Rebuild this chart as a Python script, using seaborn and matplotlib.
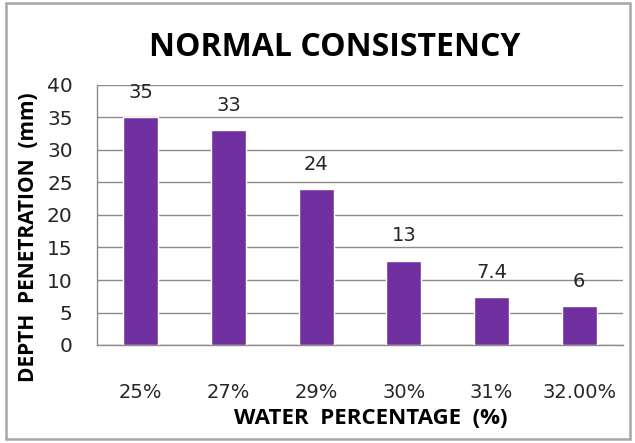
import matplotlib
matplotlib.use("Agg")
import matplotlib.pyplot as plt
import seaborn as sns
import pandas as pd
from matplotlib.patches import Rectangle

water = ["25%", "27%", "29%", "30%", "31%", "32.00%"]
depth = [35, 33, 24, 13, 7.4, 6]
value_labels = ["35", "33", "24", "13", "7.4", "6"]

sns.set_style("white")
plt.rcParams["font.family"] = ["Open Sans", "DejaVu Sans"]
NUM_FONT = "DejaVu Sans"
TEXT_COLOR = "#262626"

df = pd.DataFrame({"water": water, "depth": depth})

W, H = 635, 443
L, R, T, B = 97, 623, 85, 345
fig = plt.figure(figsize=(W / 100, H / 100), dpi=100)
ax = fig.add_axes([L / W, 1 - B / H, (R - L) / W, (B - T) / H])

sns.barplot(data=df, x="water", y="depth", color="#7030A0", saturation=1,
            width=0.40, ax=ax, zorder=3)

ax.set_ylim(0, 40)
ax.set_yticks(range(0, 41, 5))
ax.set_xlim(-0.5, len(water) - 0.5)
ax.yaxis.grid(True, color="#8c8c8c", linewidth=1.0, zorder=0)
ax.set_axisbelow(True)

for side in ["top", "right"]:
    ax.spines[side].set_visible(False)
for side in ["left", "bottom"]:
    ax.spines[side].set_color("#8c8c8c")
    ax.spines[side].set_linewidth(1.0)

# x ticks sit on the category boundaries, labels centred under the bars
ax.set_xticks([i - 0.5 for i in range(len(water) + 1)], minor=False)
ax.set_xticklabels([])
ax.set_xticks(range(len(water)), minor=True)
ax.set_xticklabels(water, minor=True, fontsize=14, family=NUM_FONT, color=TEXT_COLOR)
ax.tick_params(axis="x", which="major", length=6, color="#8c8c8c", width=1, direction="out")
ax.tick_params(axis="x", which="minor", length=0, pad=27)
ax.tick_params(axis="y", length=6.5, color="#8c8c8c", width=1, direction="out",
               labelsize=14.5, labelcolor=TEXT_COLOR, pad=11)
for t in ax.get_yticklabels():
    t.set_family(NUM_FONT)

for i, (v, lab) in enumerate(zip(depth, value_labels)):
    ax.annotate(lab, (i, v), xytext=(0, 11), textcoords="offset points",
                ha="center", va="bottom", fontsize=14, family=NUM_FONT,
                color=TEXT_COLOR)

ax.set_xlabel("WATER  PERCENTAGE  (%)", fontsize=16, fontweight="bold", color="#000000")
ax.xaxis.set_label_coords((371 - L) / (R - L), (B - 408) / (B - T))
ax.set_ylabel("DEPTH  PENETRATION  (mm)", fontsize=15, fontweight="bold", color="#000000")
ax.yaxis.set_label_coords((39 - L) / (R - L), (B - 237) / (B - T))

fig.text(335 / W, 1 - 47.5 / H, "NORMAL CONSISTENCY", ha="center", va="center",
         fontsize=23, fontweight="bold", color="#000000")

fig.patches.append(Rectangle((6 / W, 4 / H), 624 / W, 436 / H,
                             transform=fig.transFigure, fill=False,
                             edgecolor="#a6a6a6", linewidth=1.8))

fig.savefig("out.png", dpi=100)
